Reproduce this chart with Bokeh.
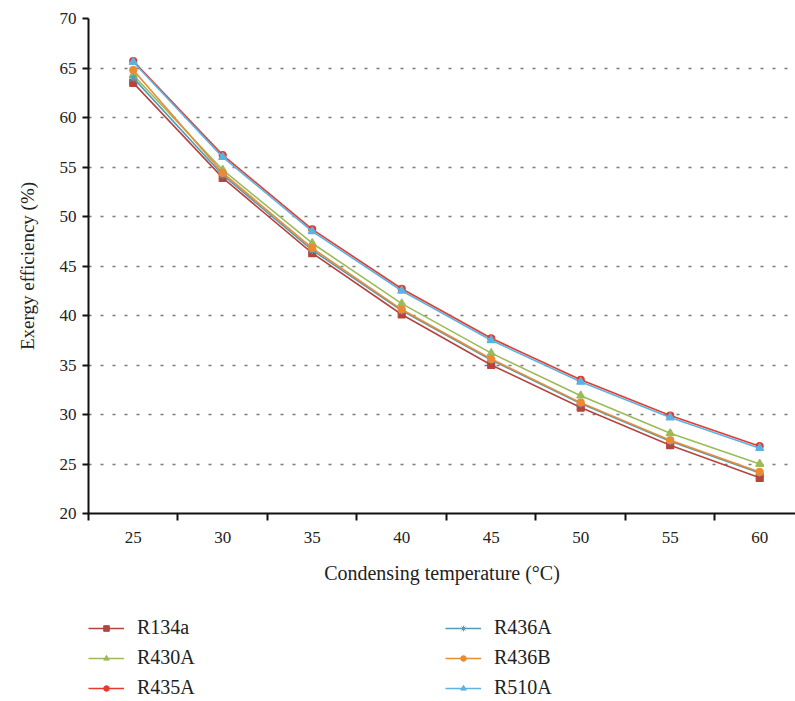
from bokeh.plotting import figure
from bokeh.models import FixedTicker, Legend, LegendItem, Range1d
from bokeh.layouts import column
from bokeh.embed import file_html
from bokeh.resources import INLINE

temps = [25, 30, 35, 40, 45, 50, 55, 60]
tick_labels = ["25", "30", "35", "40", "45", "50", "55", "60"]
r134a = [63.5, 53.9, 46.3, 40.1, 35.0, 30.7, 26.9, 23.6]
r430a = [64.3, 54.7, 47.3, 41.2, 36.2, 31.9, 28.1, 25.0]
r435a = [65.7, 56.2, 48.7, 42.7, 37.7, 33.5, 29.9, 26.8]
r436a = [64.0, 54.2, 46.6, 40.5, 35.5, 31.1, 27.3, 24.1]
r436b = [64.8, 54.4, 46.8, 40.6, 35.6, 31.2, 27.4, 24.2]
r510a = [65.6, 56.0, 48.5, 42.5, 37.5, 33.3, 29.7, 26.6]
y_ticks = [20, 25, 30, 35, 40, 45, 50, 55, 60, 65, 70]

series = [
    ("R134a", r134a, "#B5443F", "square", 7),
    ("R430A", r430a, "#9BBB59", "triangle", 8),
    ("R435A", r435a, "#E53A2E", "circle", 7),
    ("R436A", r436a, "#4F9DB8", "asterisk", 8),
    ("R436B", r436b, "#EB8A35", "circle", 7),
    ("R510A", r510a, "#5BB3E0", "triangle", 8),
]

FONT = "Liberation Serif"

p = figure(width=795, height=600, output_backend="svg", toolbar_location=None,
           x_range=Range1d(22.5, 62.0), y_range=Range1d(20, 70),
           min_border_left=88, min_border_right=0, min_border_top=18,
           min_border_bottom=87)
p.outline_line_color = None
p.background_fill_color = "white"
p.border_fill_color = "white"

# x axis: labels at centers, tick marks at boundaries (as minor ticks)
bounds = [t - 2.5 for t in temps] + [temps[-1] + 2.5]
p.xaxis.ticker = FixedTicker(ticks=temps, minor_ticks=bounds)
p.xaxis.major_label_overrides = {t: s for t, s in zip(temps, tick_labels)}
p.xaxis.major_tick_out = 0
p.xaxis.major_tick_in = 0
p.xaxis.minor_tick_out = 7
p.xaxis.minor_tick_in = 0
p.xaxis.minor_tick_line_color = "#111111"
p.xaxis.minor_tick_line_width = 2
p.xaxis.axis_label = "Condensing temperature (°C)"
p.xaxis.major_label_standoff = 11
p.xaxis.axis_label_standoff = 16

p.yaxis.ticker = FixedTicker(ticks=y_ticks, minor_ticks=[])
p.yaxis.major_tick_out = 6
p.yaxis.major_tick_in = 0
p.yaxis.major_tick_line_width = 2
p.yaxis.major_tick_line_color = "#111111"
p.yaxis.axis_label = "Exergy efficiency (%)"
p.yaxis.major_label_standoff = 6
p.yaxis.axis_label_standoff = 19

for ax in (p.xaxis, p.yaxis):
    ax.axis_line_width = 2
    ax.axis_line_color = "#111111"
    ax.major_label_text_font = FONT
    ax.major_label_text_font_size = "17px"
    ax.major_label_text_color = "#222222"
    ax.axis_label_text_font = FONT
    ax.axis_label_text_font_style = "normal"
    ax.axis_label_text_color = "#222222"
p.xaxis.axis_label_text_font_size = "20px"
p.yaxis.axis_label_text_font_size = "19px"

p.xgrid.grid_line_color = None
p.ygrid.ticker = FixedTicker(ticks=y_ticks[1:])
p.ygrid.grid_line_color = "#7a7a7a"
p.ygrid.grid_line_width = 1.5
p.ygrid.grid_line_dash = "3 9"

for name, vals, color, marker, size in series:
    p.line(temps, vals, line_color=color, line_width=1.6)
    p.scatter(temps, vals, marker=marker, size=size, fill_color=color,
              line_color=color, line_width=1.2)

# legend panel below the chart
lg = figure(width=795, height=101, output_backend="svg", toolbar_location=None,
            x_range=Range1d(0, 1), y_range=Range1d(0, 1),
            min_border_left=0, min_border_right=0, min_border_top=0,
            min_border_bottom=0)
lg.axis.visible = False
lg.grid.visible = False
lg.outline_line_color = None
items = []
for name, vals, color, marker, size in series:
    ln = lg.line([-10, -9], [-10, -10], line_color=color, line_width=1.6)
    sc = lg.scatter([-10], [-10], marker=marker, size=size - 2, fill_color=color,
                    line_color=color, line_width=1.0)
    items.append(LegendItem(label=name, renderers=[ln, sc]))

legend = Legend(items=items, ncols=2, location=(0, 2),
                glyph_width=36, glyph_height=14, label_height=23,
                label_standoff=13, label_width=301, spacing=7,
                padding=0, margin=0, border_line_color=None,
                background_fill_alpha=0,
                label_text_font=FONT, label_text_font_size="20px",
                label_text_color="#222222")
lg.add_layout(legend, "center")

layout = column(p, lg, spacing=0)
open("out.html", "w").write(file_html(layout, INLINE))
